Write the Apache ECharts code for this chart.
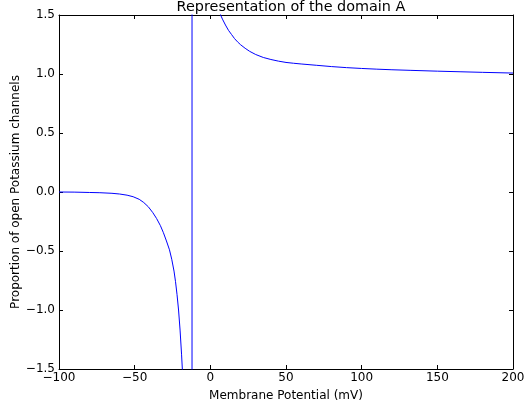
<!DOCTYPE html>
<html>
<head>
<meta charset="utf-8">
<script src="https://cdn.jsdelivr.net/npm/echarts@6/dist/echarts.min.js"></script>
<style>
html,body{margin:0;padding:0;background:#fff;}
#c{width:526px;height:411px;}
</style>
</head>
<body>
<div id="c"></div>
<script>
// Membrane potential (mV) sample points
var potential = [
  -100, -90, -80, -73, -65, -60, -55, -51, -47, -44, -41, -38, -35.5, -33, -31, -29, -27, -25.5, -24, -23, -22, -21, -20, -19, -18.5, -17, -12.15,
  -12.05, -10, -5, 0, 4, 6.8, 8, 10, 12, 14, 16, 18, 20, 23, 26, 30, 35, 40, 45, 50, 55, 60, 70, 80, 90, 100, 110, 120, 132, 150, 165, 180, 200
];
// Proportion of open potassium channels at each potential
var proportion = [
  0.000, -0.001, -0.004, -0.006, -0.011, -0.017, -0.027, -0.040, -0.062, -0.089, -0.125, -0.175, -0.225, -0.285, -0.345, -0.415, -0.49, -0.57, -0.67, -0.76, -0.87, -1.00, -1.17, -1.38, -1.50, -2.0, -40,
  40, 8, 3, 2.0, 1.7, 1.5, 1.465, 1.415, 1.37, 1.335, 1.30, 1.272, 1.248, 1.218, 1.192, 1.165, 1.14, 1.123, 1.109, 1.098, 1.091, 1.085, 1.074, 1.063, 1.054, 1.047, 1.041, 1.036, 1.031, 1.024, 1.019, 1.014, 1.008
];
var xTicks = [-100, -50, 0, 50, 100, 150, 200];
var yTicks = [-1.5, -1.0, -0.5, 0.0, 0.5, 1.0, 1.5];

var chartTitle = 'Representation of the domain A';
var xName = 'Membrane Potential (mV)';
var yName = 'Proportion of open Potassium channels';

var data = potential.map(function (v, i) { return [v, proportion[i]]; });

function fmtX(v) { return (v < 0 ? '\u2212' : '') + Math.abs(v); }
function fmtY(v) { return (v < 0 ? '\u2212' : '') + Math.abs(v).toFixed(1); }

var font = 'DejaVu Sans';
function axisCommon() {
  return {
    axisLine: { show: true, onZero: false, lineStyle: { color: '#000', width: 1 } },
    axisTick: { show: true, inside: true, length: 4, lineStyle: { color: '#000', width: 1 } },
    splitLine: { show: false }
  };
}

var chart = echarts.init(document.getElementById('c'), null, { renderer: 'canvas' });
chart.setOption({
  animation: false,
  backgroundColor: '#fff',
  title: {
    text: chartTitle,
    left: 286,
    textAlign: 'center',
    top: -5,
    textStyle: { fontFamily: font, fontSize: 14.4, fontWeight: 'normal', color: '#000' }
  },
  grid: { left: 59, right: 13, top: 15, bottom: 42, containLabel: false, outerBoundsMode: 'none' },
  xAxis: [
    Object.assign({
      type: 'value', min: -100, max: 200, interval: 50, position: 'bottom',
      name: xName, nameLocation: 'middle', nameGap: 21, nameMoveOverlap: false,
      nameTextStyle: { fontFamily: font, fontSize: 12, color: '#000' },
      axisLabel: { show: true, margin: 3, fontFamily: font, fontSize: 12, color: '#000', formatter: fmtX }
    }, axisCommon()),
    Object.assign({
      type: 'value', min: -100, max: 200, interval: 50, position: 'top',
      axisLabel: { show: false }
    }, axisCommon())
  ],
  yAxis: [
    Object.assign({
      type: 'value', min: -1.5, max: 1.5, interval: 0.5, position: 'left',
      name: yName, nameLocation: 'middle', nameGap: 37, nameMoveOverlap: false,
      nameTextStyle: { fontFamily: font, fontSize: 12, color: '#000' },
      axisLabel: { show: true, margin: 4, fontFamily: font, fontSize: 12, color: '#000', formatter: fmtY }
    }, axisCommon()),
    Object.assign({
      type: 'value', min: -1.5, max: 1.5, interval: 0.5, position: 'right',
      axisLabel: { show: false }
    }, axisCommon())
  ],
  series: [{
    type: 'line',
    data: data,
    xAxisIndex: 0,
    yAxisIndex: 0,
    showSymbol: false,
    smooth: false,
    clip: true,
    lineStyle: { color: '#0000ff', width: 1 }
  }]
});
</script>
</body>
</html>
